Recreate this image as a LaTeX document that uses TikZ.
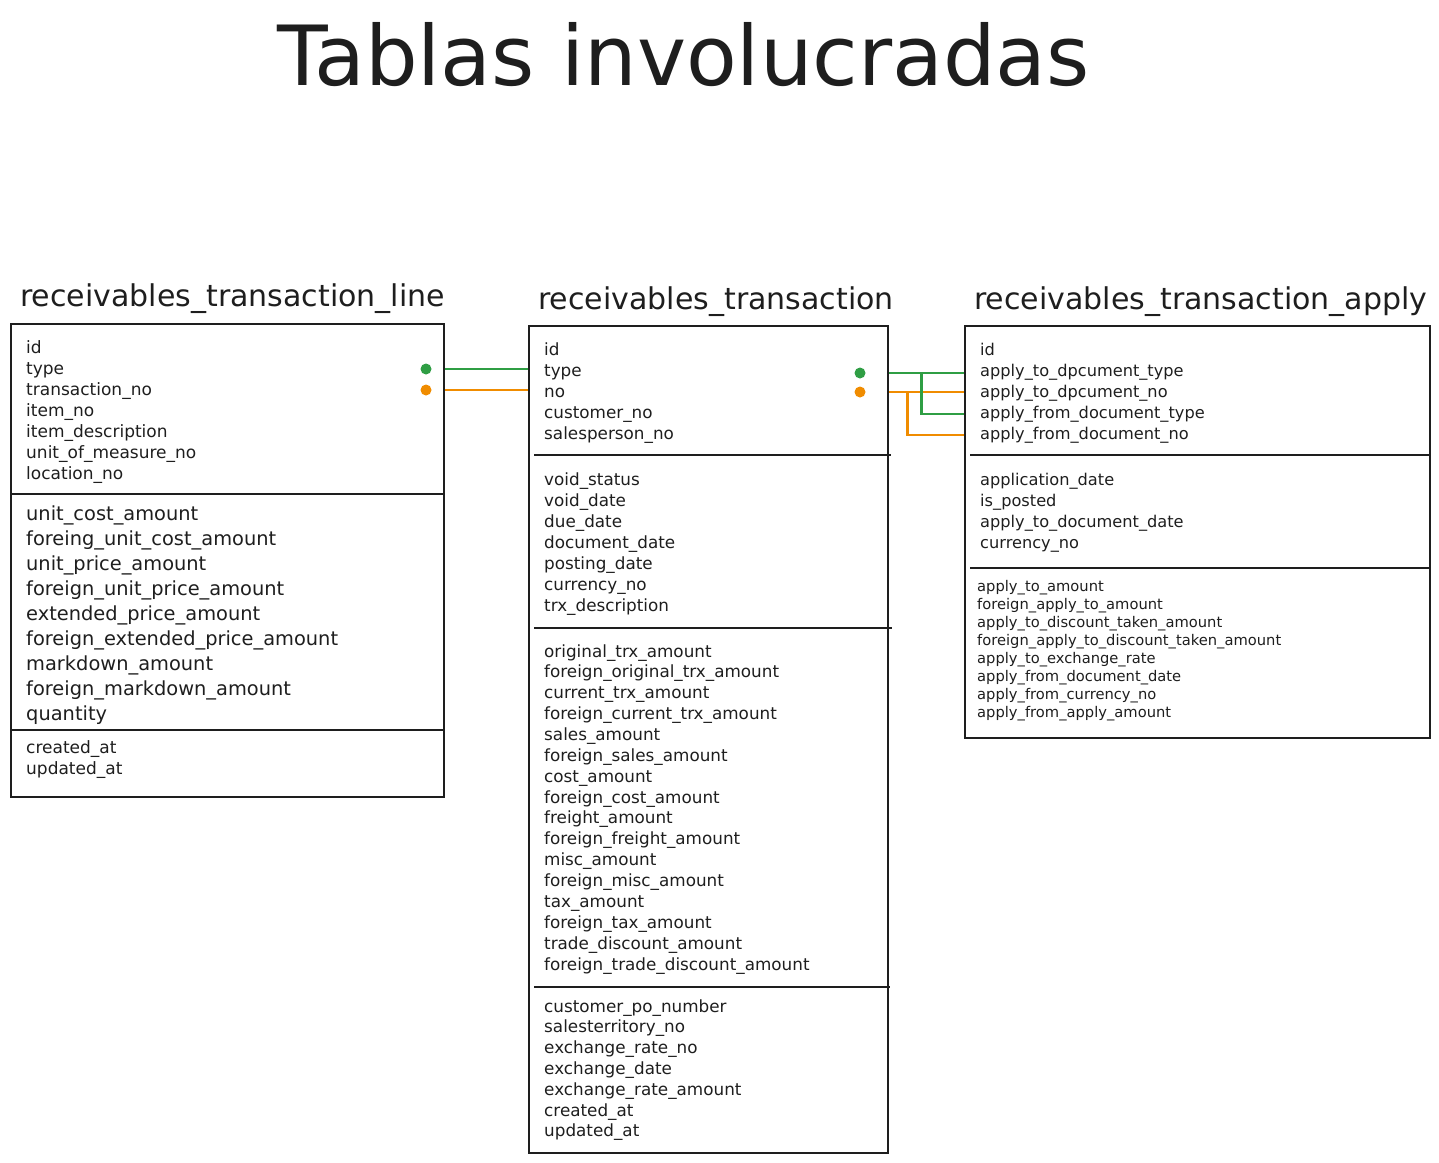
\documentclass[tikz,border=0pt]{standalone}
\usepackage{fontspec}
\setmainfont{DejaVu Sans}
\definecolor{ink}{HTML}{1E1E1E}
\definecolor{lgreen}{HTML}{2F9E44}
\definecolor{lorange}{HTML}{F08C00}
\begin{document}
\begin{tikzpicture}[x=1pt,y=-1pt,
  tbl/.style={draw=ink, line width=2.4pt, inner sep=0pt, anchor=north west},
  divider/.style={draw=ink, line width=2.4pt},
  row/.style={anchor=base west, inner sep=0pt, text=ink, yshift=-6pt, font=\fontsize{17}{17}\selectfont},
  rowbig/.style={row, yshift=-1pt, font=\fontsize{19.4}{19.4}\selectfont},
  rowmid/.style={row, font=\fontsize{16.8}{16.8}\selectfont},
  rowthree/.style={row, font=\fontsize{16.2}{16.2}\selectfont},
  rowsmall/.style={row, yshift=1pt, font=\fontsize{14.7}{14.7}\selectfont},
  ttl/.style={anchor=base west, inner sep=0pt, text=ink, font=\fontsize{30}{30}\selectfont},
  dotg/.style={circle, fill=lgreen, inner sep=0pt, minimum size=11pt},
  doto/.style={circle, fill=lorange, inner sep=0pt, minimum size=11pt},
  linkg/.style={draw=lgreen, line width=2.2pt},
  linko/.style={draw=lorange, line width=2.2pt}]
\useasboundingbox (0,0) rectangle (1439,1162);
% main title
\node[anchor=base west, inner sep=0pt, text=ink, font=\fontsize{83}{83}\selectfont] (title) at (277,85) {Tablas involucradas};
% table titles
\node[ttl] (h1) at (20,306) {receivables\_transaction\_line};
\node[ttl] (h2) at (538,309) {receivables\_transaction};
\node[ttl] (h3) at (974,309) {receivables\_transaction\_apply};
% tables
\node[tbl, minimum width=433pt, minimum height=473pt] (t1) at (10,323) {};
\node[tbl, minimum width=359pt, minimum height=827pt] (t2) at (528,325) {};
\node[tbl, minimum width=465pt, minimum height=412pt] (t3) at (964,325) {};
% dividers
\draw[divider] (t1.west |- 0,494) -- (t1.east |- 0,494);
\draw[divider] (t1.west |- 0,730) -- (t1.east |- 0,730);
\draw[divider] (534,455) -- (891,455);
\draw[divider] (534,628) -- (892,628);
\draw[divider] (534,987) -- (890,987);
\draw[divider] (970,455) -- (t3.east |- 0,455);
\draw[divider] (970,568) -- (t3.east |- 0,568);
% table 1 rows
\foreach \t [count=\i from 0] in {id,type,transaction\_no,item\_no,item\_description,unit\_of\_measure\_no,location\_no}
  \node[row] (t1a-\i) at (26,347+21*\i) {\t};
\foreach \t [count=\i from 0] in {unit\_cost\_amount,foreing\_unit\_cost\_amount,unit\_price\_amount,foreign\_unit\_price\_amount,extended\_price\_amount,foreign\_extended\_price\_amount,markdown\_amount,foreign\_markdown\_amount,quantity}
  \node[rowbig] (t1b-\i) at (26,513+25*\i) {\t};
\foreach \t [count=\i from 0] in {created\_at,updated\_at}
  \node[row] (t1c-\i) at (26,747+21*\i) {\t};
% table 2 rows
\foreach \t [count=\i from 0] in {id,type,no,customer\_no,salesperson\_no}
  \node[rowmid] (t2a-\i) at (544,349+21*\i) {\t};
\foreach \t [count=\i from 0] in {void\_status,void\_date,due\_date,document\_date,posting\_date,currency\_no,trx\_description}
  \node[rowmid] (t2b-\i) at (544,479+21*\i) {\t};
\foreach \t [count=\i from 0] in {original\_trx\_amount,foreign\_original\_trx\_amount,current\_trx\_amount,foreign\_current\_trx\_amount,sales\_amount,foreign\_sales\_amount,cost\_amount,foreign\_cost\_amount,freight\_amount,foreign\_freight\_amount,misc\_amount,foreign\_misc\_amount,tax\_amount,foreign\_tax\_amount,trade\_discount\_amount,foreign\_trade\_discount\_amount}
  \node[rowmid] (t2c-\i) at (544,651+20.87*\i) {\t};
\foreach \t [count=\i from 0] in {customer\_po\_number,salesterritory\_no,exchange\_rate\_no,exchange\_date,exchange\_rate\_amount,created\_at,updated\_at}
  \node[rowmid] (t2d-\i) at (544,1006+20.83*\i) {\t};
% table 3 rows
\foreach \t [count=\i from 0] in {id,apply\_to\_dpcument\_type,apply\_to\_dpcument\_no,apply\_from\_document\_type,apply\_from\_document\_no}
  \node[rowthree] (t3a-\i) at (980,349+21*\i) {\t};
\foreach \t [count=\i from 0] in {application\_date,is\_posted,apply\_to\_document\_date,currency\_no}
  \node[rowthree] (t3b-\i) at (980,479+21*\i) {\t};
\foreach \t [count=\i from 0] in {apply\_to\_amount,foreign\_apply\_to\_amount,apply\_to\_discount\_taken\_amount,foreign\_apply\_to\_discount\_taken\_amount,apply\_to\_exchange\_rate,apply\_from\_document\_date,apply\_from\_currency\_no,apply\_from\_apply\_amount}
  \node[rowsmall] (t3c-\i) at (977,586+18.14*\i) {\t};
% key dots
\node[dotg] (d1g) at (426,369) {};
\node[doto] (d1o) at (426,390) {};
\node[dotg] (d2g) at (860,373) {};
\node[doto] (d2o) at (860,392) {};
% connectors
\draw[linkg] (t1.east |- d1g) -- (t2.west |- d1g);
\draw[linko] (t1.east |- d1o) -- (t2.west |- d1o);
\draw[linkg] (t2.east |- d2g) -- (t3.west |- d2g);
\draw[linko] (t2.east |- d2o) -- (t3.west |- d2o);
\coordinate (bg) at ([xshift=32pt]t2.east |- d2g);
\coordinate (bo) at ([xshift=18pt]t2.east |- d2o);
\draw[linkg] (bg) |- (t3.west |- 0,414);
\draw[linko] (bo) |- (t3.west |- 0,435);
\end{tikzpicture}
\end{document}
